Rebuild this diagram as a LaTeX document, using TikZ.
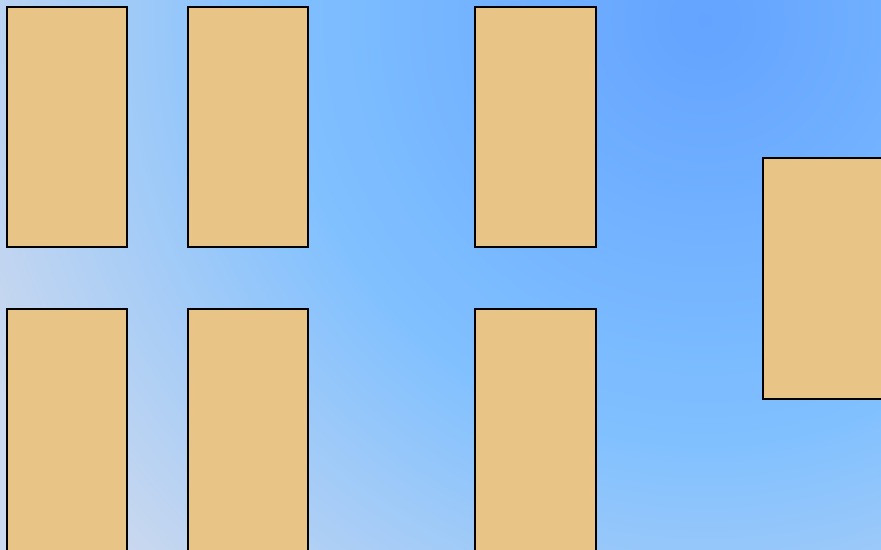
\documentclass[tikz,border=0pt]{standalone}
\definecolor{tan}{RGB}{232,197,135}
\definecolor{bgA}{RGB}{205,217,238}
\definecolor{bgB}{RGB}{128,192,255}
\definecolor{bgC}{RGB}{100,163,255}
\pgfdeclareradialshading{skyglow}{\pgfpoint{0bp}{0bp}}{%
  color(0bp)=(bgC);
  color(10.5bp)=(bgB);
  color(20bp)=(bgA);
  color(50bp)=(bgA)}
\begin{document}
\begin{tikzpicture}[x=1pt,y=-1pt,
  box/.style={draw=black,line width=2pt,fill=tan,inner sep=0pt,outer sep=0pt,anchor=north west,minimum width=120pt,minimum height=240pt}]
\useasboundingbox (0,0) rectangle (881,549);
\clip (0,0) rectangle (881,549);
\shade[shading=skyglow] (-295,-980) rectangle (1705,1020);
\node[box] (r1) at (6.5,6.5) {};
\node[box] (r2) at (187.5,6.5) {};
\node[box,minimum width=121pt] (r3) at (474.5,6.5) {};
\node[box,minimum height=250pt] (r4) at (6.5,308.5) {};
\node[box,minimum height=250pt] (r5) at (187.5,308.5) {};
\node[box,minimum width=121pt,minimum height=250pt] (r6) at (474.5,308.5) {};
\node[box,minimum width=130pt,minimum height=241pt] (r7) at (762.5,157.5) {};
\end{tikzpicture}
\end{document}
